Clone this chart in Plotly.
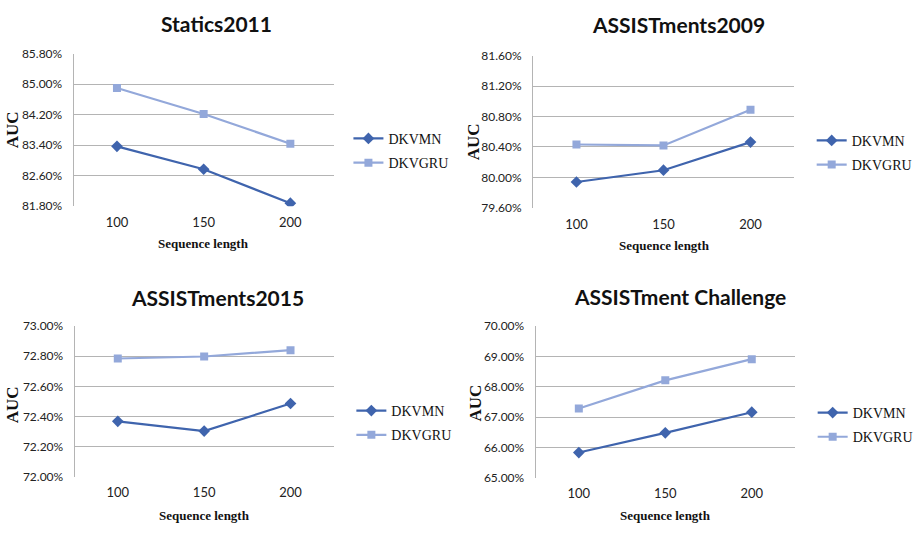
import plotly.graph_objects as go

# Sequence lengths on the shared categorical x axis
seq_lengths = ["100", "150", "200"]

# AUC (%) per dataset
statics_dkvmn = [83.37, 82.77, 81.88]
statics_dkvgru = [84.90, 84.22, 83.44]

a2009_dkvmn = [79.94, 80.095, 80.464]
a2009_dkvgru = [80.433, 80.42, 80.89]

a2015_dkvmn = [72.368, 72.303, 72.486]
a2015_dkvgru = [72.785, 72.798, 72.84]

challenge_dkvmn = [65.83, 66.48, 67.16]
challenge_dkvgru = [67.28, 68.21, 68.91]

titles = ["Statics2011", "ASSISTments2009", "ASSISTments2015", "ASSISTment Challenge"]
y_ranges = [(81.8, 85.8, 0.8), (79.6, 81.6, 0.4), (72.0, 73.0, 0.2), (65.0, 70.0, 1.0)]

W, H = 918, 533
C_MN = "#3F64AD"
C_GRU = "#93A8DA"
GRID = "#B4B4B4"

panels = [
    dict(mn=statics_dkvmn, gru=statics_dkvgru, box=(75, 340, 47, 204),
         title=(221, 16), xt=(207, 242), yt=(13, 125), leg=(355, 147)),
    dict(mn=a2009_dkvmn, gru=a2009_dkvgru, box=(543, 809, 49, 205.7),
         title=(691, 17), xt=(677, 244), yt=(482, 138), leg=(827, 149)),
    dict(mn=a2015_dkvmn, gru=a2015_dkvgru, box=(76, 340, 327.3, 482.3),
         title=(222, 298), xt=(208, 522), yt=(13, 408), leg=(358, 427)),
    dict(mn=challenge_dkvmn, gru=challenge_dkvgru, box=(545.7, 810, 327.3, 483.3),
         title=(693, 297), xt=(678, 522), yt=(485, 407), leg=(828, 429)),
]

fig = go.Figure()
layout = dict(
    width=W, height=H, margin=dict(l=0, r=0, t=0, b=0),
    paper_bgcolor="white", plot_bgcolor="white", showlegend=True,
)
annotations = []

for i, p in enumerate(panels):
    n = i + 1
    xa = "x" if n == 1 else f"x{n}"
    ya = "y" if n == 1 else f"y{n}"
    lg = "legend" if n == 1 else f"legend{n}"
    x0, x1, top, bot = p["box"]
    lo, hi, step = y_ranges[i]

    fig.add_trace(go.Scatter(
        x=seq_lengths, y=p["mn"], name="DKVMN", mode="lines+markers",
        xaxis=xa, yaxis=ya, legend=lg, legendgroup=f"mn{n}",
        line=dict(color=C_MN, width=2.2),
        marker=dict(symbol="diamond", size=9, color=C_MN),
    ))
    fig.add_trace(go.Scatter(
        x=seq_lengths, y=p["gru"], name="DKVGRU", mode="lines+markers",
        xaxis=xa, yaxis=ya, legend=lg, legendgroup=f"gru{n}",
        line=dict(color=C_GRU, width=2.2),
        marker=dict(symbol="square", size=8, color=C_GRU),
    ))

    xkey = "xaxis" if n == 1 else f"xaxis{n}"
    ykey = "yaxis" if n == 1 else f"yaxis{n}"
    layout[xkey] = dict(
        domain=[x0 / W, x1 / W], anchor=ya, type="category",
        range=[-0.5, 2.5], showgrid=False, zeroline=False, showline=False,
        ticks="outside", ticklen=4, tickcolor="rgba(0,0,0,0)",
        tickfont=dict(family="Lato", size=13, color="#222"),
    )
    layout[ykey] = dict(
        domain=[1 - bot / H, 1 - top / H], anchor=xa,
        range=[lo, hi], tick0=lo, dtick=step, tickformat=".2f", ticksuffix="%",
        showgrid=True, gridcolor=GRID, gridwidth=1, zeroline=False,
        showline=True, linecolor=GRID, linewidth=1,
        ticks="outside", ticklen=8, tickcolor="rgba(0,0,0,0)",
        tickfont=dict(family="Lato", size=12, color="#222"),
    )
    layout[lg] = dict(
        x=p["leg"][0] / W, y=1 - p["leg"][1] / H, xanchor="left", yanchor="middle",
        bgcolor="rgba(0,0,0,0)", borderwidth=0, itemwidth=30,
        tracegroupgap=3, traceorder="grouped",
        font=dict(family="Liberation Serif", size=14, color="#111"),
    )

    annotations.append(dict(
        text=f"<b>{titles[i]}</b>", x=p["title"][0] / W, y=1 - p["title"][1] / H,
        xref="paper", yref="paper", showarrow=False, xanchor="center", yanchor="middle",
        font=dict(family="Lato", size=21, color="#111"),
    ))
    annotations.append(dict(
        text="<b>Sequence length</b>", x=p["xt"][0] / W, y=1 - p["xt"][1] / H,
        xref="paper", yref="paper", showarrow=False, xanchor="center", yanchor="middle",
        font=dict(family="Liberation Serif", size=13, color="#111"),
    ))
    annotations.append(dict(
        text="<b>AUC</b>", x=p["yt"][0] / W, y=1 - p["yt"][1] / H, textangle=-90,
        xref="paper", yref="paper", showarrow=False, xanchor="center", yanchor="middle",
        font=dict(family="Liberation Serif", size=17, color="#111"),
    ))

layout["annotations"] = annotations
fig.update_layout(**layout)
fig.write_html("out.html")
